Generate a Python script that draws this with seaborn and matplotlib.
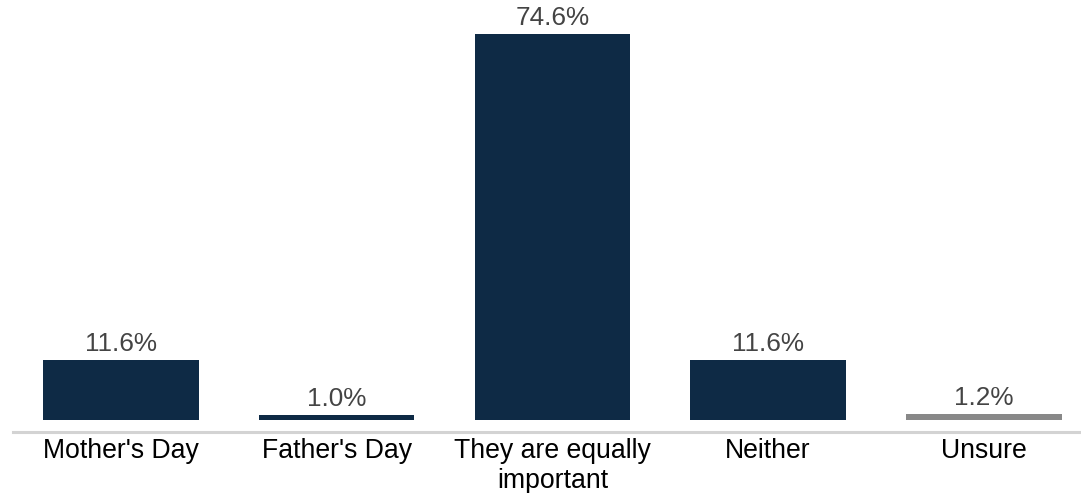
import matplotlib
matplotlib.use("Agg")
import matplotlib.pyplot as plt
import seaborn as sns

categories = ["Mother's Day", "Father's Day", "They are equally\nimportant", "Neither", "Unsure"]
values = [11.6, 1.0, 74.6, 11.6, 1.2]
colors = ["#0E2A45", "#0E2A45", "#0E2A45", "#0E2A45", "#888888"]

sns.set_style("white")
plt.rcParams['font.family'] = ['Liberation Sans', 'DejaVu Sans']

fig = plt.figure(figsize=(10.81, 4.93), dpi=100)
ax = fig.add_axes([13 / 1081, (493 - 420) / 493, (1081 - 13) / 1081, 413.6 / 493])

sns.barplot(x=categories, y=values, hue=categories, palette=colors, legend=False,
            width=0.72, saturation=1, linewidth=0, ax=ax)

for cont, v in zip(ax.containers, values):
    ax.bar_label(cont, labels=[f"{v:.1f}%"], padding=3, fontsize=18.8, color="#444444")

ax.set_xlim(-0.5, 4.45)
ax.set_ylim(0, 80)
for s in ["left", "right", "top"]:
    ax.spines[s].set_visible(False)
ax.spines["bottom"].set_position(("outward", 8.6))
ax.spines["bottom"].set_color("#D3D3D3")
ax.spines["bottom"].set_linewidth(2.2)
ax.set_yticks([])
ax.tick_params(axis="x", length=0, pad=4, labelsize=19.2, labelcolor="black")
ax.set_xlabel("")
ax.set_ylabel("")

fig.savefig("out.png", dpi=100)
